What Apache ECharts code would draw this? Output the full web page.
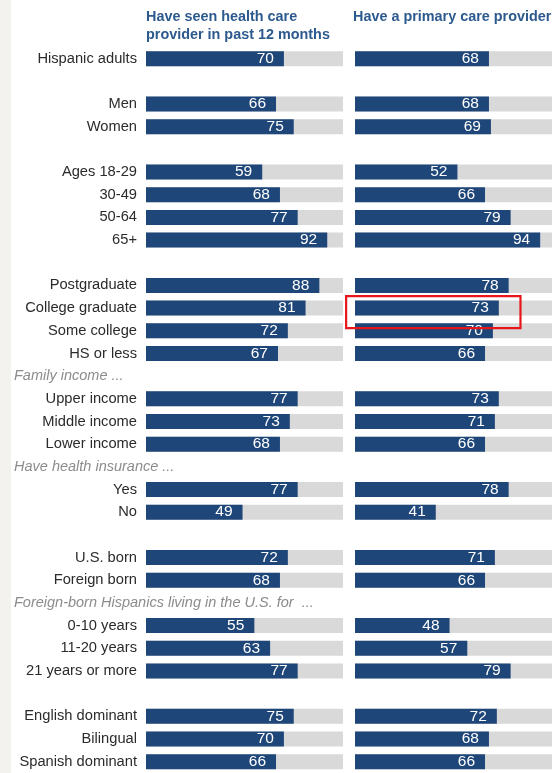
<!DOCTYPE html>
<html>
<head>
<meta charset="utf-8">
<script src="https://cdn.jsdelivr.net/npm/echarts@6/dist/echarts.min.js"></script>
<style>
html,body{margin:0;padding:0;background:#fff;}
#chart{width:555px;height:773px;}
</style>
</head>
<body>
<div id="chart"></div>
<script>
var categories = ['Hispanic adults','b1','Men','Women','b2','Ages 18-29','30-49','50-64','65+','b3',
  'Postgraduate','College graduate','Some college','HS or less','Family income ...',
  'Upper income','Middle income','Lower income','Have health insurance ...','Yes','No','b4',
  'U.S. born','Foreign born','Foreign-born Hispanics living in the U.S. for  ...',
  '0-10 years','11-20 years','21 years or more','b5','English dominant','Bilingual','Spanish dominant'];
var headers = ['Family income ...','Have health insurance ...','Foreign-born Hispanics living in the U.S. for  ...'];
var seenValues = [70,null,66,75,null,59,68,77,92,null,88,81,72,67,null,77,73,68,null,77,49,null,72,68,null,55,63,77,null,75,70,66];
var primaryValues = [68,null,68,69,null,52,66,79,94,null,78,73,70,66,null,73,71,66,null,78,41,null,71,66,null,48,57,79,null,72,68,66];
var columnTitles = ['Have seen health care\nprovider in past 12 months','Have a primary care provider'];
var highlightCategory = 'College graduate';

function isBlank(c){ return /^b\d+$/.test(c); }
function isHeader(c){ return headers.indexOf(c) >= 0; }

var chart = echarts.init(document.getElementById('chart'));
var FONT = '"Liberation Sans", Arial, sans-serif';
var BAR = '#1f4679';
var BG = '#d9d9d9';
var slot = 22.77;
var gridTop = 58.7 - slot/2;
var gridH = slot * categories.length;

function bgData(vals){ return vals.map(function(v){ return v == null ? '-' : 100; }); }
function valData(vals){ return vals.map(function(v){ return v == null ? '-' : v; }); }

var grids = [
  {left:146, width:197, top:gridTop, height:gridH},
  {left:355, width:197, top:gridTop, height:gridH}
];
var yBase = {type:'category', data:categories, inverse:true,
  axisLine:{show:false}, axisTick:{show:false}, splitLine:{show:false}};

var option = {
  animation:false,
  backgroundColor:'#fff',
  grid: grids,
  xAxis: [
    {type:'value', gridIndex:0, min:0, max:100, show:false},
    {type:'value', gridIndex:1, min:0, max:100, show:false}
  ],
  yAxis: [
    Object.assign({}, yBase, {gridIndex:0, axisLabel:{margin:9, fontSize:14.7, color:'#2b2b2b', fontFamily:FONT, interval:0,
      formatter:function(v){ return (isBlank(v)||isHeader(v)) ? '' : v; }}}),
    Object.assign({}, yBase, {gridIndex:0, position:'left', axisLabel:{margin:132, align:'left', fontSize:14.5, fontStyle:'italic', color:'#8c8c8c', fontFamily:FONT, interval:0,
      formatter:function(v){ return isHeader(v) ? v : ''; }}}),
    Object.assign({}, yBase, {gridIndex:1, axisLabel:{show:false}})
  ],
  series: [
    {type:'bar', xAxisIndex:0, yAxisIndex:0, data:bgData(seenValues), barWidth:15, barGap:'-100%', itemStyle:{color:BG}, silent:true},
    {type:'bar', xAxisIndex:0, yAxisIndex:0, data:valData(seenValues), barWidth:15, barGap:'-100%', itemStyle:{color:BAR},
      label:{show:true, position:'insideRight', distance:10, color:'#fff', fontSize:15.5, fontFamily:FONT}},
    {type:'bar', xAxisIndex:1, yAxisIndex:2, data:bgData(primaryValues), barWidth:15, barGap:'-100%', itemStyle:{color:BG}, silent:true},
    {type:'bar', xAxisIndex:1, yAxisIndex:2, data:valData(primaryValues), barWidth:15, barGap:'-100%', itemStyle:{color:BAR},
      label:{show:true, position:'insideRight', distance:10, color:'#fff', fontSize:15.5, fontFamily:FONT}}
  ],
  graphic: [
    {type:'rect', left:0, top:0, shape:{width:11, height:773}, style:{fill:'#f3f2ee'}, silent:true},
    {type:'text', left:146, top:8, style:{text:columnTitles[0], font:'bold 14.4px '+FONT, fill:'#2d5a8e', lineHeight:18}},
    {type:'text', left:353, top:8, style:{text:columnTitles[1], font:'bold 14.4px '+FONT, fill:'#2d5a8e', lineHeight:18}}
  ]
};
chart.setOption(option);

// Red highlight box around the highlighted row in the second panel
var idx = categories.indexOf(highlightCategory);
var p1 = chart.convertToPixel({xAxisIndex:1, yAxisIndex:2}, [-4.5, idx]);
var p2 = chart.convertToPixel({xAxisIndex:1, yAxisIndex:2}, [84, idx]);
chart.setOption({graphic: option.graphic.concat([
  {type:'rect', shape:{x:p1[0], y:p1[1]-12, width:p2[0]-p1[0], height:32}, style:{fill:'none', stroke:'#e8161b', lineWidth:2.2}, silent:true, z:100}
])});
</script>
</body>
</html>
